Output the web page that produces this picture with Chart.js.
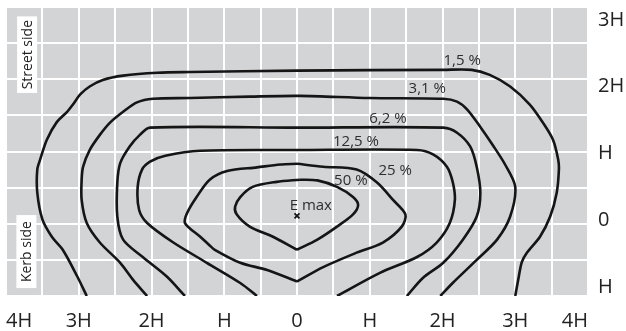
<!DOCTYPE html>
<html><head><meta charset="utf-8">
<script src="https://cdn.jsdelivr.net/npm/chart.js@4"></script>
<style>html,body{margin:0;padding:0;background:#fff}#wrap{width:626px;height:331px;position:relative}</style>
</head><body><div id="wrap"><canvas id="c"></canvas></div>
<script>
// ---- axis ticks (values in units of H) ----
const xTickValues = [-4,-3,-2,-1,0,1,2,3,4];
const xTickLabels = ['4H','3H','2H','H','0','H','2H','3H','4H'];
const yTickValues = [-1,0,1,2,3];
const yTickLabels = ['H','0','H','2H','3H'];

// ---- isolux contours (x, y in units of H) ----
const contourNames = ['1,5 %','3,1 %','6,2 %','12,5 %','25 %','50 %'];
const c15x = [-2.89,-3.02,-3.22,-3.37,-3.5,-3.57,-3.57,-3.53,-3.44,-3.3,-3.16,-3.08,-2.98,-2.85,-2.67,-2.39,-1.92,-1.47,0,2.01,2.4,2.65,2.93,3.2,3.38,3.52,3.59,3.6,3.57,3.48,3.34,3.16,3.09,3.04,3.0];
const c15y = [-1,-0.73,-0.36,-0.18,0.06,0.43,0.75,0.89,1.16,1.41,1.55,1.65,1.79,1.9,1.99,2.05,2.09,2.1,2.12,2.13,2.13,2.06,1.9,1.65,1.4,1.16,0.89,0.75,0.43,0.1,-0.18,-0.4,-0.53,-0.78,-1];
const c31x = [-2.06,-2.25,-2.43,-2.71,-2.89,-2.96,-2.96,-2.94,-2.85,-2.71,-2.57,-2.39,-2.2,-1.98,-1.47,-0.65,0.04,1.0,2.01,2.2,2.34,2.52,2.69,2.86,3.0,2.93,2.75,2.47,2.14,1.97];
const c31y = [-1,-0.78,-0.54,-0.26,0.01,0.33,0.61,0.79,1.02,1.23,1.4,1.55,1.68,1.73,1.74,1.76,1.77,1.74,1.73,1.69,1.58,1.34,1.09,0.82,0.51,0.1,-0.22,-0.5,-0.82,-1];
const c62x = [-1.54,-1.79,-2.12,-2.39,-2.47,-2.47,-2.43,-2.3,-2.16,-2.02,0,2.01,2.2,2.38,2.47,2.52,2.47,2.28,2.01,1.73,1.51];
const c62y = [-1,-0.73,-0.46,-0.22,0.1,0.57,0.84,1.07,1.23,1.33,1.33,1.33,1.26,1.07,0.79,0.43,0.1,-0.22,-0.54,-0.75,-1];
const c125x = [-0.55,-0.78,-1.24,-1.7,-2.06,-2.17,-2.19,-2.13,-2.02,-1.81,-1.33,0,1.65,1.87,2.06,2.14,2.17,2.1,1.92,1.65,1.14,0.55];
const c125y = [-1,-0.82,-0.54,-0.26,0.01,0.19,0.51,0.75,0.86,0.94,1.01,1.02,1.02,0.96,0.79,0.58,0.33,0.01,-0.26,-0.46,-0.68,-1];
const c25x = [0,-0.41,-0.78,-1.13,-1.2,-1.33,-1.54,-1.51,-1.38,-1.2,-0.96,-0.55,-0.23,0,0.36,0.82,1.1,1.32,1.49,1.44,1.18,0.82,0.36,0];
const c25y = [-0.8,-0.64,-0.54,-0.36,-0.3,-0.18,0.01,0.15,0.37,0.61,0.73,0.78,0.82,0.83,0.79,0.75,0.57,0.33,0.13,-0.04,-0.26,-0.4,-0.6,-0.8];
const c50x = [0,-0.33,-0.65,-0.83,-0.85,-0.78,-0.61,-0.28,0.04,0.28,0.55,0.77,0.84,0.77,0.55,0.28,0];
const c50y = [-0.36,-0.18,-0.04,0.13,0.24,0.37,0.51,0.58,0.61,0.6,0.51,0.37,0.26,0.13,-0.04,-0.22,-0.36];

// ---- label anchors (units of H) ----
const labelX = [2.27,1.79,1.25,0.81,1.35,0.74];
const labelY = [2.26,1.87,1.45,1.14,0.73,0.6];
const emaxX = [0];
const emaxY = [0.11];
const emaxText = 'E max';
const emaxTextX = [0.19];
const emaxTextY = [0.25];
const sideTexts = ['Street side','Kerb side'];
const sideX = [-3.71,-3.72];
const sideTop = [2.87,0.12];
const sideBottom = [1.81,-0.89];

const LINE = '#151515';
const FONT = "'Open Sans', sans-serif";

function pts(xs, ys){ return xs.map((x,i)=>({x:x, y:ys[i]})); }
function lineDs(data){ return {data:data, showLine:true, borderColor:LINE, borderWidth:2.6, pointRadius:0, tension:0.3, fill:false}; }

const curves = [[c15x,c15y,false],[c31x,c31y,false],[c62x,c62y,false],[c125x,c125y,false],[c25x,c25y,true],[c50x,c50y,true]];
const datasets = [];
curves.forEach(([xs,ys,closed])=>{
  const p = pts(xs,ys);
  if (closed) {
    let k = 0; ys.forEach((v,i)=>{ if (v > ys[k]) k = i; });
    datasets.push(lineDs(p.slice(0,k+1)));
    datasets.push(lineDs(p.slice(k)));
  } else datasets.push(lineDs(p));
});
datasets.push({data:pts(emaxX,emaxY), showLine:false, pointStyle:'crossRot', pointRadius:3.5, borderColor:LINE, borderWidth:1.8, backgroundColor:LINE});

const gridVals = [];
for (let v=-4; v<=4.001; v+=0.5) gridVals.push(Math.round(v*2)/2);
const gridValsY = [];
for (let v=-1; v<=3.001; v+=0.5) gridValsY.push(Math.round(v*2)/2);

const bgPlugin = {
  id:'bg',
  beforeDraw(chart){
    const {ctx, chartArea:a} = chart;
    ctx.save(); ctx.fillStyle = '#d3d4d6';
    ctx.fillRect(a.left, a.top, a.right-a.left, a.bottom-a.top);
    ctx.restore();
  },
  afterDatasetsDraw(chart){
    const {ctx, scales:{x,y}} = chart;
    ctx.save();
    ctx.fillStyle = '#2e2e2e'; ctx.textAlign='center'; ctx.textBaseline='middle';
    ctx.font = "15px " + FONT;
    contourNames.forEach((t,i)=>ctx.fillText(t, x.getPixelForValue(labelX[i]), y.getPixelForValue(labelY[i])));
    ctx.fillText(emaxText, x.getPixelForValue(emaxTextX[0]), y.getPixelForValue(emaxTextY[0]));
    // side boxes
    sideTexts.forEach((t,i)=>{
      const cx = x.getPixelForValue(sideX[i]);
      const t0 = y.getPixelForValue(sideTop[i]), t1 = y.getPixelForValue(sideBottom[i]);
      ctx.fillStyle = '#fff';
      ctx.fillRect(cx-10, t0, 20, t1-t0);
      ctx.save();
      ctx.translate(cx+1, (t0+t1)/2);
      ctx.rotate(-Math.PI/2);
      ctx.fillStyle = '#222'; ctx.font = "14px " + FONT;
      ctx.fillText(t, 0, 0);
      ctx.restore();
    });
    ctx.restore();
  }
};

new Chart(document.getElementById('c'), {
  type:'scatter',
  data:{datasets:datasets},
  plugins:[bgPlugin],
  options:{
    responsive:true, maintainAspectRatio:false, animation:false, devicePixelRatio:1,
    layout:{padding:{left:6, top:7, right:0, bottom:0}},
    plugins:{legend:{display:false}, tooltip:{enabled:false}},
    scales:{
      x:{type:'linear', min:-4, max:4,
        afterBuildTicks(s){ s.ticks = gridVals.map(v=>({value:v})); },
        afterFit(s){ s.height = 35; s.paddingLeft = 0; s.paddingRight = 0; },
        grid:{color:'#fff', lineWidth:2, drawTicks:false},
        border:{display:false},
        ticks:{autoSkip:false, maxRotation:0, minRotation:0, align:'inner', padding:13, color:'#222',
          font:{family:FONT, size:20},
          callback(v){ const i = xTickValues.indexOf(v); return i>=0 ? xTickLabels[i] : ''; }}
      },
      y:{type:'linear', position:'left', min:-1, max:3,
        afterBuildTicks(s){ s.ticks = gridValsY.map(v=>({value:v})); },
        afterFit(s){ s.width = 0; s.paddingTop = 0; s.paddingBottom = 0; },
        grid:{color:'#fff', lineWidth:2, drawTicks:false},
        border:{display:false},
        ticks:{display:false}
      },
      yl:{type:'linear', position:'right', min:-1.135, max:3.195,
        afterBuildTicks(s){ s.ticks = yTickValues.map(v=>({value:v})); },
        afterFit(s){ s.width = 38; s.paddingTop = 0; s.paddingBottom = 0; },
        grid:{display:false, drawTicks:false},
        border:{display:false},
        ticks:{padding:10, color:'#222', font:{family:FONT, size:20},
          callback(v){ const i = yTickValues.indexOf(v); return i>=0 ? yTickLabels[i] : ''; }}
      }
    }
  }
});
</script></body></html>
